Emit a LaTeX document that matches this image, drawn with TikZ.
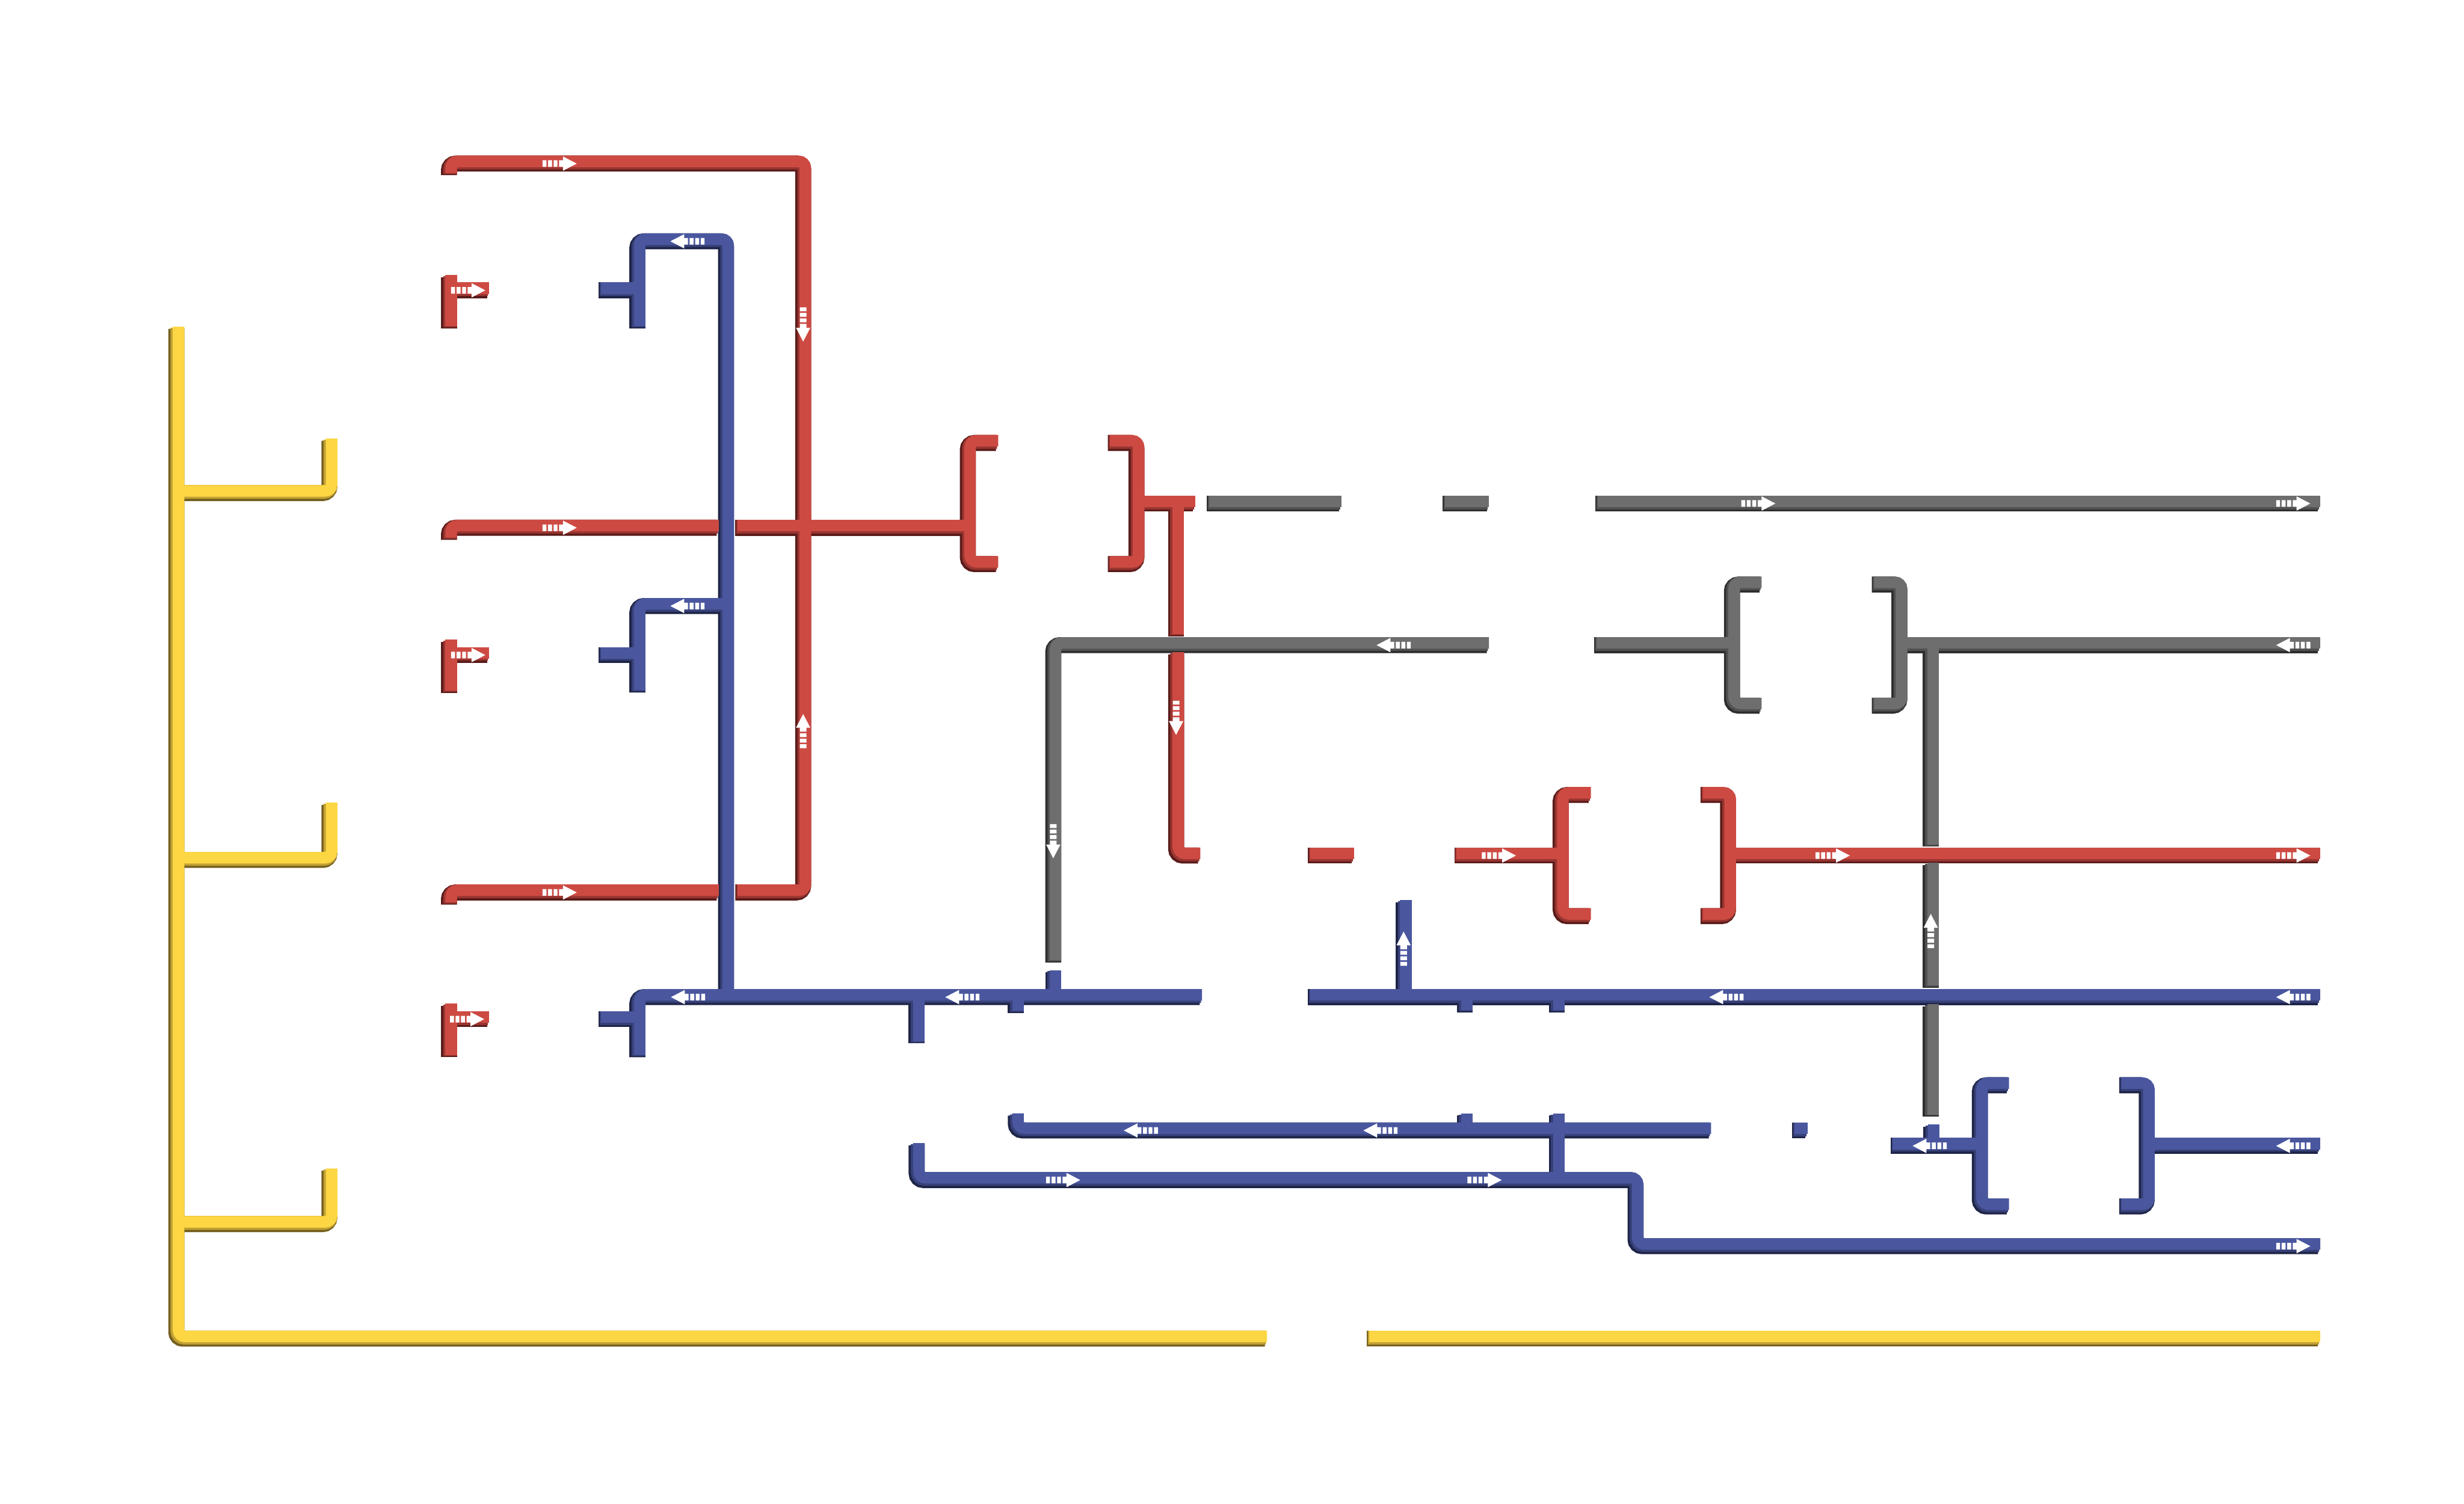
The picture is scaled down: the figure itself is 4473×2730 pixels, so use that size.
\documentclass[tikz,border=0pt]{standalone}
\definecolor{rL}{HTML}{CD4A43}\definecolor{rD}{HTML}{5A1C1A}
\definecolor{bL}{HTML}{4A579F}\definecolor{bD}{HTML}{1F2548}
\definecolor{gL}{HTML}{6E6E6E}\definecolor{gD}{HTML}{2E2E2E}
\definecolor{yL}{HTML}{FDD643}\definecolor{yD}{HTML}{76601F}
\colorlet{rM}{rL!55!rD}\colorlet{bM}{bL!55!bD}\colorlet{gM}{gL!55!gD}\colorlet{yM}{yL!55!yD}
\tikzset{
  lay/.style n args={3}{
    R/.style={draw=r#1,line width=#2,shift={(#3,-#3)},rounded corners=12pt},
    B/.style={draw=b#1,line width=#2,shift={(#3,-#3)},rounded corners=12pt},
    G/.style={draw=g#1,line width=#2,shift={(#3,-#3)},rounded corners=12pt},
    Y/.style={draw=y#1,line width=#2,shift={(#3,-#3)},rounded corners=12pt}},
  flowarrow/.pic={
    \fill[white] (-31,-6) rectangle (-24,6) (-21,-6) rectangle (-14,6)
                 (-11,-6) rectangle (-4,6) (-1,-6) rectangle (7,6);
    \fill[white] (6,-13) -- (31,0) -- (6,13) -- cycle;}
}
\newcommand\pipenet{%
  % ---------- yellow ----------
  \draw[Y] (320,597) -- (320,2430) -- (2296,2430);
  \draw[Y] (2481,2430) -- (4208,2430);
  \draw[Y] (320,895) -- (598,895) -- (598,800);
  \draw[Y] (320,1561) -- (598,1561) -- (598,1461);
  \draw[Y] (320,2222) -- (598,2222) -- (598,2125);
  % ---------- red ----------
  \draw[R] (815,318) -- (815,297) -- (1458,297) -- (1458,1620) -- (1335,1620);
  \draw[R] (1301,1620) -- (815,1620) -- (815,1642);
  \draw[R] (815,980) -- (815,958) -- (1301,958);
  \draw[R] (1335,958) -- (1757,958);
  \draw[R] (1808,804) -- (1757,804) -- (1757,1024) -- (1808,1024);
  \draw[R] (2011,804) -- (2063,804) -- (2063,1024) -- (2011,1024);
  \draw[R] (2063,914) -- (2166,914);
  \draw[R] (2135,914) -- (2135,1155);
  \draw[R] (2135,1188) -- (2135,1553) -- (2175,1553);
  \draw[R] (2374,1553) -- (2454,1553);
  \draw[R] (2640,1553) -- (2833,1553);
  \draw[R] (2884,1443) -- (2833,1443) -- (2833,1663) -- (2884,1663);
  \draw[R] (3087,1443) -- (3137,1443) -- (3137,1663) -- (3087,1663);
  \draw[R] (3137,1553) -- (4208,1553);
  \foreach \s in {527,1189,1850}{
    \draw[R] (815,\s-24) -- (815,\s+69);
    \draw[R] (815,\s) -- (884,\s);}
  % ---------- gray ----------
  \draw[G] (2191,914) -- (2431,914);
  \draw[G] (2619,914) -- (2699,914);
  \draw[G] (2896,914) -- (4208,914);
  \draw[G] (2699,1171) -- (1912,1171) -- (1912,1747);
  \draw[G] (2894,1171) -- (3144,1171);
  \draw[G] (3194,1061) -- (3144,1061) -- (3144,1281) -- (3194,1281);
  \draw[G] (3398,1061) -- (3448,1061) -- (3448,1281) -- (3398,1281);
  \draw[G] (3448,1171) -- (4208,1171);
  \draw[G] (3505,1171) -- (3505,1537);
  \draw[G] (3505,1570) -- (3505,1793);
  \draw[G] (3505,1827) -- (3505,2027);
  % ---------- blue ----------
  \draw[B] (1087,527) -- (1157,527);
  \draw[B] (1157,596) -- (1157,438) -- (1318,438) -- (1318,1810);
  \draw[B] (1087,1189) -- (1157,1189);
  \draw[B] (1157,1257) -- (1157,1100) -- (1318,1100);
  \draw[B] (1087,1850) -- (1157,1850);
  \draw[B] (1157,1919) -- (1157,1810) -- (2178,1810);
  \draw[B] (2374,1810) -- (4208,1810);
  \draw[B] (1664,1810) -- (1664,1894);
  \draw[B] (1844,1810) -- (1844,1839);
  \draw[B] (1912,1810) -- (1912,1765);
  \draw[B] (2548,1810) -- (2548,1638);
  \draw[B] (2659,1810) -- (2659,1838);
  \draw[B] (2826,1810) -- (2826,1838);
  \draw[B] (1844,2025) -- (1844,2052) -- (3102,2052);
  \draw[B] (2659,2052) -- (2659,2025);
  \draw[B] (2826,2025) -- (2826,2142);
  \draw[B] (3253,2052) -- (3277,2052);
  \draw[B] (3432,2080) -- (3594,2080);
  \draw[B] (3506,2080) -- (3506,2045);
  \draw[B] (3643,1970) -- (3594,1970) -- (3594,2190) -- (3643,2190);
  \draw[B] (3847,1970) -- (3897,1970) -- (3897,2190) -- (3847,2190);
  \draw[B] (3897,2080) -- (4208,2080);
  \draw[B] (1664,2079) -- (1664,2142) -- (2969,2142) -- (2969,2262) -- (4208,2262);
}
\begin{document}
\begin{tikzpicture}[x=1pt,y=-1pt]
  \useasboundingbox[fill=white] (0,0) rectangle (4473,2730);
  \begin{scope}[lay={D}{29pt}{0}] \pipenet \end{scope}
  \begin{scope}[lay={M}{25pt}{2}] \pipenet \end{scope}
  \begin{scope}[lay={L}{21pt}{4}] \pipenet \end{scope}
  % ---------- flow arrows ----------
  % red
  \pic at (1016,297) {flowarrow};
  \pic at (1016,958) {flowarrow};
  \pic at (1016,1620) {flowarrow};
  \pic at (850,527) {flowarrow};
  \pic at (850,1189) {flowarrow};
  \pic at (848,1850) {flowarrow};
  \pic[rotate=-90] at (1458,589) {flowarrow};
  \pic[rotate=90] at (1458,1327) {flowarrow};
  \pic[rotate=-90] at (2135,1303) {flowarrow};
  \pic at (2721,1553) {flowarrow};
  \pic at (3327,1553) {flowarrow};
  \pic at (4163,1553) {flowarrow};
  % gray
  \pic at (3192,914) {flowarrow};
  \pic at (4163,914) {flowarrow};
  \pic[rotate=180] at (2530,1171) {flowarrow};
  \pic[rotate=180] at (4163,1171) {flowarrow};
  \pic[rotate=-90] at (1912,1527) {flowarrow};
  \pic[rotate=90] at (3505,1690) {flowarrow};
  % blue
  \pic[rotate=180] at (1248,438) {flowarrow};
  \pic[rotate=180] at (1248,1100) {flowarrow};
  \pic[rotate=180] at (1249,1810) {flowarrow};
  \pic[rotate=180] at (1747,1810) {flowarrow};
  \pic[rotate=180] at (3134,1810) {flowarrow};
  \pic[rotate=180] at (4163,1810) {flowarrow};
  \pic[rotate=90] at (2548,1722) {flowarrow};
  \pic[rotate=180] at (2071,2052) {flowarrow};
  \pic[rotate=180] at (2506,2052) {flowarrow};
  \pic[rotate=180] at (3503,2080) {flowarrow};
  \pic[rotate=180] at (4163,2080) {flowarrow};
  \pic at (1930,2142) {flowarrow};
  \pic at (2695,2142) {flowarrow};
  \pic at (4163,2262) {flowarrow};
\end{tikzpicture}
\end{document}
